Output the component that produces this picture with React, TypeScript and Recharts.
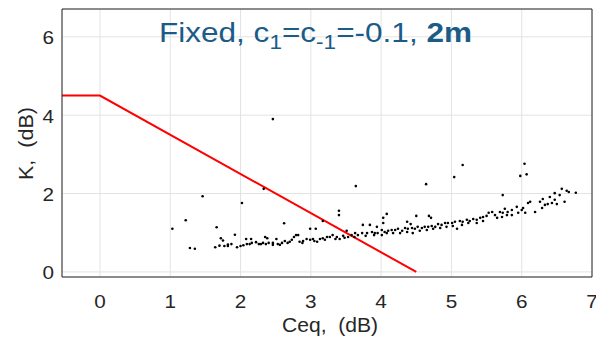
import React from 'react';
import { ComposedChart, XAxis, YAxis, CartesianGrid, Scatter, Line, ReferenceLine } from 'recharts';

const xTicks = [0, 1, 2, 3, 4, 5, 6, 7];
const yTicks = [0, 2, 4, 6];
const xDomain: [number, number] = [-0.54, 7];
const yDomain: [number, number] = [-0.13, 6.71];

// Threshold line K(Ceq)
const thresholdX = [-0.54, 0, 4.5];
const thresholdY = [4.5, 4.5, 0];

// Measured points [Ceq, K]
const outlierPoints: [number, number][] = [
  [2.46, 3.9], [5.16, 2.73], [6.04, 2.76], [5.98, 2.45], [6.07, 2.49], [3.64, 2.19], [4.64, 2.24],
  [1.46, 1.93], [2.02, 1.76], [2.33, 2.12], [5.04, 2.42], [5.73, 1.96],
  [1.03, 1.1], [1.22, 1.32], [1.28, 0.61], [1.35, 0.59], [1.66, 1.14], [2.62, 1.24], [3.17, 1.3],
  [3.4, 1.45], [3.4, 1.56], [2.99, 1.1], [3.07, 1.1], [3.74, 1.2], [3.84, 1.2], [3.94, 1.15],
  [4.03, 1.38], [4.08, 1.48], [4.03, 1.25], [4.5, 1.43], [4.68, 1.43], [4.71, 1.38], [4.37, 1.28], [4.42, 1.22],
];

const bandLowPoints: [number, number][] = [
  [1.64, 0.63], [1.72, 0.86], [1.75, 0.8], [1.7, 0.67], [1.77, 0.66], [1.82, 0.66], [1.82, 0.7], [1.87, 0.71],
  [1.92, 0.95], [1.95, 0.63], [2.0, 0.66], [2.04, 0.68], [2.08, 0.84], [2.15, 0.84], [2.09, 0.71], [2.13, 0.71],
  [2.16, 0.74], [2.22, 0.76], [2.26, 0.71], [2.29, 0.71], [2.35, 0.89], [2.38, 0.86], [2.32, 0.74], [2.36, 0.71],
  [2.4, 0.74], [2.46, 0.74], [2.51, 0.84], [2.53, 0.71], [2.59, 0.74], [2.63, 0.79], [2.67, 0.74], [2.73, 0.82],
  [2.76, 0.89], [2.79, 0.94], [2.82, 0.94], [2.84, 0.77], [2.89, 0.79], [2.94, 0.84], [2.99, 0.82], [3.03, 0.84],
  [3.09, 0.77], [3.13, 0.84], [3.17, 0.86], [3.23, 0.89], [3.27, 0.89], [3.31, 0.94], [3.37, 0.89], [3.41, 0.84],
  [3.46, 0.92], [3.51, 1.05], [3.53, 0.89], [3.58, 0.94], [3.63, 0.99], [3.67, 0.94], [3.73, 0.99], [3.8, 0.99],
  [3.87, 1.02], [3.91, 0.99], [3.95, 0.99], [2.46, 0.69], [2.56, 0.69], [2.7, 0.77], [2.88, 0.74], [3.05, 0.79],
  [3.2, 0.82], [3.35, 0.84], [3.48, 0.87], [3.62, 0.89], [3.78, 0.92], [3.9, 0.94],
];

const bandHighPoints: [number, number][] = [
  [4.01, 1.07], [4.05, 1.02], [4.1, 1.05], [4.15, 1.07], [4.2, 1.07], [4.24, 1.1], [4.3, 1.05], [4.34, 1.12],
  [4.38, 1.1], [4.44, 1.12], [4.48, 1.1], [4.52, 1.15], [4.58, 1.12], [4.62, 1.15], [4.67, 1.15], [4.72, 1.17],
  [4.77, 1.15], [4.81, 1.22], [4.86, 1.2], [4.91, 1.25], [4.95, 1.25], [5.01, 1.25], [5.05, 1.28], [5.08, 1.1],
  [5.12, 1.3], [5.16, 1.28], [5.22, 1.33], [5.26, 1.3], [5.31, 1.35], [5.36, 1.33], [5.41, 1.38], [5.45, 1.4],
  [5.5, 1.43], [5.53, 1.51], [4.01, 0.94], [4.08, 0.99], [4.17, 0.99], [4.27, 0.99], [4.37, 1.02], [4.45, 0.99],
  [4.55, 1.05], [4.65, 1.07], [4.74, 1.1], [4.84, 1.12], [4.93, 1.15], [5.02, 1.17], [5.15, 1.2], [5.24, 1.25],
  [5.36, 1.25], [5.45, 1.3],
  [5.58, 1.53], [5.62, 1.45], [5.65, 1.38], [5.69, 1.53], [5.72, 1.4], [5.73, 1.51], [5.76, 1.61], [5.79, 1.45],
  [5.8, 1.53], [5.86, 1.58], [5.86, 1.45], [5.93, 1.66], [5.95, 1.51], [6.0, 1.58], [6.02, 1.63], [6.05, 1.51],
  [6.09, 1.76], [6.12, 1.79], [6.19, 1.53], [6.26, 1.79], [6.29, 1.63], [6.3, 1.86], [6.33, 1.71], [6.37, 1.73],
  [6.4, 1.91], [6.43, 1.76], [6.47, 2.01], [6.47, 1.84], [6.5, 1.73], [6.54, 1.96], [6.57, 2.12], [6.61, 1.79],
  [6.64, 2.07], [6.67, 2.04], [6.77, 2.02],
];

const scatterData = [...outlierPoints, ...bandLowPoints, ...bandHighPoints].map(([x, y]) => ({ x, y }));
const lineData = thresholdX.map((x, i) => ({ x, y: thresholdY[i] }));

const FONT = '"Liberation Sans", Arial, Helvetica, sans-serif';
const TEXT = '#262626';
const SX = 1.15;

const Dot = (props: any) => <circle cx={props.cx} cy={props.cy} r={1.3} fill="#000" />;

const XTick = (props: any) => {
  const { x, y, payload } = props;
  return (
    <text transform={`translate(${x},${y}) scale(${SX},1)`} x={0} y={12.7} textAnchor="middle" fontSize={18} fill={TEXT} fontFamily={FONT}>
      {payload.value}
    </text>
  );
};

const YTick = (props: any) => {
  const { x, y, payload } = props;
  return (
    <text transform={`translate(${x},${y}) scale(${SX},1)`} x={0} y={7.5} textAnchor="end" fontSize={18} fill={TEXT} fontFamily={FONT}>
      {payload.value}
    </text>
  );
};

export default function App() {
  return (
    <div style={{ position: 'absolute', left: 0, top: 0, width: 596, height: 339, background: '#fff' }}>
      <ComposedChart
        width={596}
        height={339}
        margin={{ top: 9, right: 4, bottom: 32, left: 22 }}
        style={{ fontFamily: FONT }}
      >
        <CartesianGrid stroke="#e3e3e3" strokeWidth={1} />
        <XAxis
          type="number"
          dataKey="x"
          domain={xDomain}
          ticks={xTicks}
          allowDataOverflow
          height={30}
          tickSize={0}
          tickMargin={18}
          axisLine={{ stroke: TEXT, strokeWidth: 1 }}
          tick={<XTick />}
        />
        <YAxis
          type="number"
          dataKey="y"
          domain={yDomain}
          ticks={yTicks}
          allowDataOverflow
          width={40}
          tickSize={0}
          tickMargin={8}
          axisLine={{ stroke: TEXT, strokeWidth: 1 }}
          tick={<YTick />}
        />
        <ReferenceLine y={yDomain[1]} stroke={TEXT} strokeWidth={1} />
        <ReferenceLine x={xDomain[1]} stroke={TEXT} strokeWidth={1} />
        <Scatter data={scatterData} dataKey="y" shape={Dot} isAnimationActive={false} />
        <Line data={lineData} dataKey="y" type="linear" stroke="#ff0000" strokeWidth={2} dot={false} isAnimationActive={false} />
      </ComposedChart>
      <svg width={596} height={339} style={{ position: 'absolute', left: 0, top: 0, pointerEvents: 'none', fontFamily: FONT }}>
        <text x={159} y={42} fontSize={28} fill="#1b5b87" textLength={313} lengthAdjust="spacingAndGlyphs">
          Fixed, c<tspan fontSize={20} dy={7}>1</tspan>
          <tspan dy={-7}>=c</tspan>
          <tspan fontSize={20} dy={7}>-1</tspan>
          <tspan dy={-7}>=-0.1, </tspan>
          <tspan fontWeight="bold">2m</tspan>
        </text>
        <text x={282} y={332} fontSize={21} fill={TEXT} textLength={96} lengthAdjust="spacingAndGlyphs">
          {'Ceq,\u00a0 (dB)'}
        </text>
        <text x={0} y={0} fontSize={21} fill={TEXT} textLength={73} lengthAdjust="spacingAndGlyphs" transform="translate(33 180) rotate(-90)">
          {'K,\u00a0 (dB)'}
        </text>
      </svg>
    </div>
  );
}
